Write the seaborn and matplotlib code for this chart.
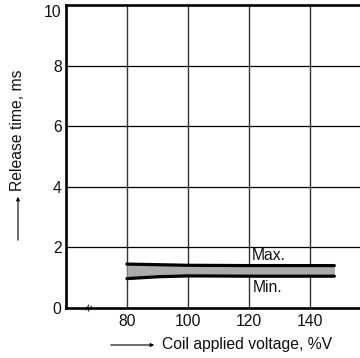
import matplotlib
matplotlib.use("Agg")
import matplotlib.pyplot as plt
import seaborn as sns
import pandas as pd

# Release time vs. coil applied voltage (band between max and min)
voltage = [80, 90, 100, 120, 148]
max_ms = [1.45, 1.43, 1.41, 1.40, 1.40]
min_ms = [0.97, 1.03, 1.06, 1.05, 1.05]
x_ticks = [80, 100, 120, 140]
y_ticks = [0, 2, 4, 6, 8, 10]

sns.set_theme(style="white")
plt.rcParams["font.family"] = ["Liberation Sans", "DejaVu Sans"]
FS = 11.3

fig = plt.figure(figsize=(3.6, 3.58), dpi=100)
ax = fig.add_axes([0.183, 0.1397, 0.822, 0.846])

df = pd.DataFrame({"voltage": voltage, "max": max_ms, "min": min_ms})

ax.fill_between(df["voltage"], df["min"], df["max"], color="#ababab", lw=0, zorder=2)
sns.lineplot(data=df, x="voltage", y="max", ax=ax, color="black", lw=2.3, zorder=3)
sns.lineplot(data=df, x="voltage", y="min", ax=ax, color="black", lw=2.3, zorder=3)

ax.set_xlim(60, 157)
ax.set_ylim(0, 10)
ax.set_xticks(x_ticks)
ax.set_yticks(y_ticks)
ax.set_xticklabels([str(v) for v in x_ticks], fontsize=FS, color="#111")
ax.set_yticklabels([str(v) for v in y_ticks], fontsize=FS, color="#111")
ax.tick_params(axis="both", length=0)
ax.tick_params(axis="x", pad=4)
ax.tick_params(axis="y", pad=3)
ax.get_yticklabels()[-1].set_verticalalignment("top")

for v in x_ticks:
    ax.axvline(v, color="#333333", lw=1.0, zorder=1)
for v in y_ticks[1:-1]:
    ax.axhline(v, color="black", lw=0.9, zorder=1)

ax.spines["right"].set_visible(False)
for side in ["left", "bottom", "top"]:
    ax.spines[side].set_color("black")
    ax.spines[side].set_linewidth(1.9)

ax.set_xlabel("")
ax.set_ylabel("")

# axis break mark
ax.text(67.7, 0.02, "≈", rotation=65, fontsize=10, ha="center", va="center",
        color="black", clip_on=False, zorder=5)

ax.text(121, 1.47, "Max.", fontsize=FS, ha="left", va="bottom", color="#111")
ax.text(121.3, 0.94, "Min.", fontsize=FS, ha="left", va="top", color="#111")

# axis titles with leading arrows
fig.text(162 / 360, 1 - 345 / 358, "Coil applied voltage, %V", fontsize=FS,
         ha="left", va="center", color="#111")
fig.add_artist(matplotlib.patches.FancyArrowPatch(
    (108 / 360, 1 - 345 / 358), (157 / 360, 1 - 345 / 358),
    transform=fig.transFigure, arrowstyle="-|>", mutation_scale=5,
    color="black", lw=0.8))
fig.text(18 / 360, 1 - 130 / 358, "Release time, ms", fontsize=FS,
         rotation=90, ha="center", va="center", color="#111")
fig.add_artist(matplotlib.patches.FancyArrowPatch(
    (18 / 360, 1 - 243 / 358), (18 / 360, 1 - 194 / 358),
    transform=fig.transFigure, arrowstyle="-|>", mutation_scale=5,
    color="black", lw=0.8))

fig.savefig("out.png", dpi=100)
